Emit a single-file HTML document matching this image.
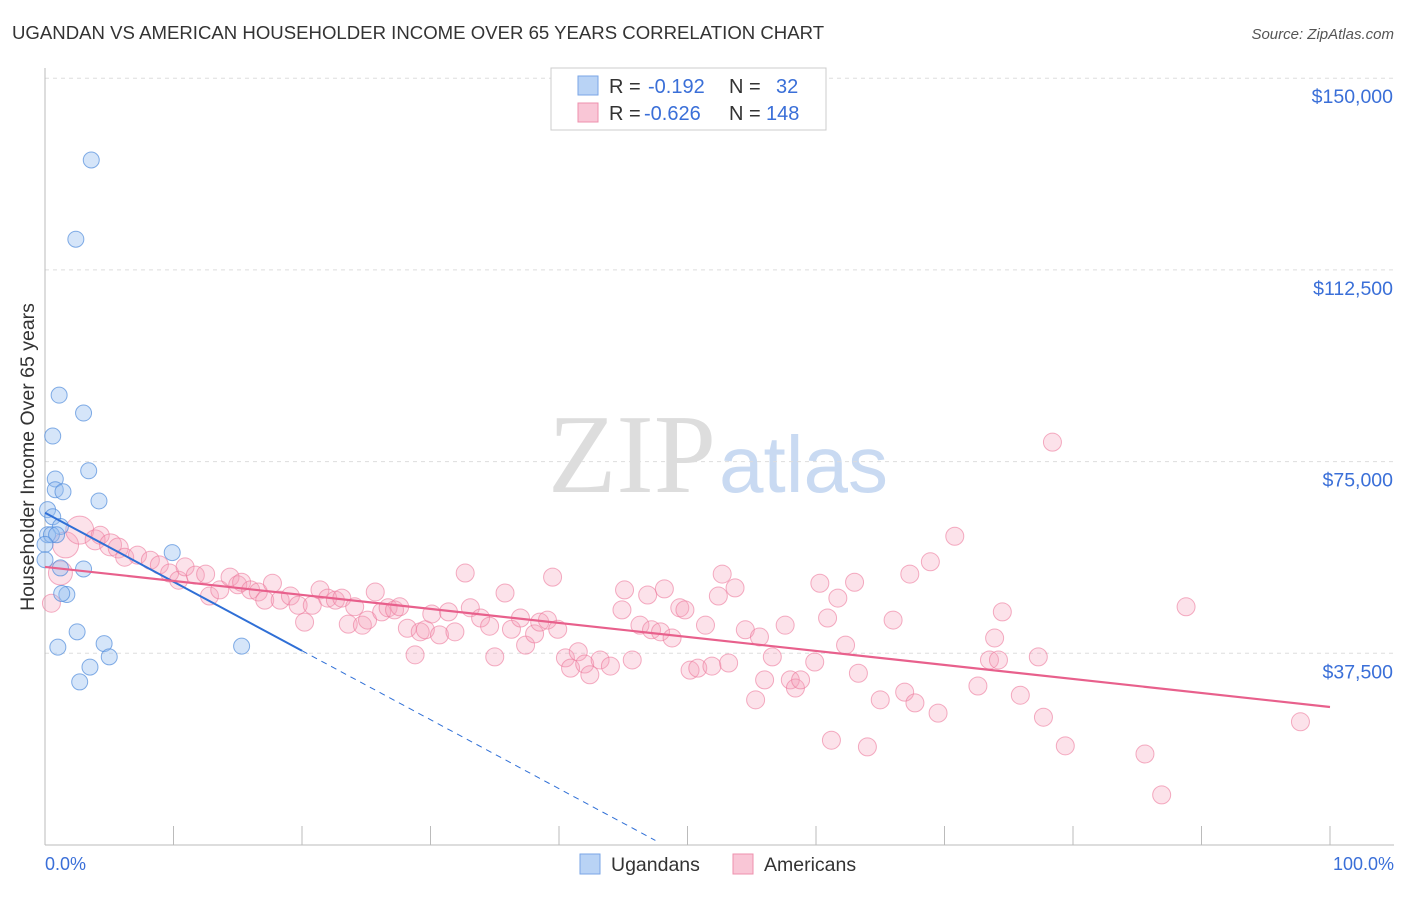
<!DOCTYPE html>
<html><head><meta charset="utf-8"><style>
body{margin:0;background:#fff;font-family:"Liberation Sans",sans-serif;}
</style></head><body>
<svg width="1406" height="892" xmlns="http://www.w3.org/2000/svg">
<text x="12" y="39" font-size="18.6" fill="#333">UGANDAN VS AMERICAN HOUSEHOLDER INCOME OVER 65 YEARS CORRELATION CHART</text>
<text x="1394" y="39" font-size="15" fill="#555" font-style="italic" text-anchor="end">Source: ZipAtlas.com</text>
<text x="716" y="492" font-size="112" fill="#ddd" text-anchor="end" font-family="Liberation Serif">ZIP</text>
<text x="719" y="492" font-size="80" fill="#c9daf2">atlas</text>
<g id="grid"></g>
<g id="axes"></g>
<g id="pts"></g>
<g id="lines"></g>
<text transform="translate(34,457) rotate(-90)" font-size="19.5" fill="#333" text-anchor="middle">Householder Income Over 65 years</text>
<text x="45" y="870" font-size="18" fill="#3a6fd8">0.0%</text>
<text x="1394" y="870" font-size="18" fill="#3a6fd8" text-anchor="end">100.0%</text>
<g>
<rect x="551" y="68" width="275" height="62" fill="#fff" stroke="#ccc"/>
<rect x="578" y="76" width="20" height="19" fill="#b9d3f5" stroke="#7aa6e6"/>
<rect x="578" y="103" width="20" height="19" fill="#f9c6d6" stroke="#ee90ad"/>
<text y="93" font-size="20" fill="#333"><tspan x="609">R =</tspan><tspan x="648" fill="#3a6fd8">-0.192</tspan><tspan x="729">N =</tspan><tspan x="776" fill="#3a6fd8">32</tspan></text>
<text y="120" font-size="20" fill="#333"><tspan x="609">R =</tspan><tspan x="644" fill="#3a6fd8">-0.626</tspan><tspan x="729">N =</tspan><tspan x="766" fill="#3a6fd8">148</tspan></text>
</g>
<g>
<rect x="580" y="854" width="20" height="20" fill="#b9d3f5" stroke="#7aa6e6"/>
<text x="611" y="871" font-size="19.5" fill="#333">Ugandans</text>
<rect x="733" y="854" width="20" height="20" fill="#f9c6d6" stroke="#ee90ad"/>
<text x="764" y="871" font-size="19.5" fill="#333">Americans</text>
</g>
</svg>
<script>
const yTicks=[37500,75000,112500,150000];
const yTickLabels=["$37,500","$75,000","$112,500","$150,000"];
const blueX=[3.6,2.4,1.1,3.0,0.6,3.4,0.8,0.8,1.4,4.2,0.2,0.6,1.2,0.2,0.5,0.9,0.0,0.0,9.9,1.2,3.0,1.7,1.3,2.5,4.6,1.0,15.3,5.0,3.5,2.7];
const blueY=[134000,118500,88000,84500,80000,73200,71600,69500,69100,67300,65600,64200,62300,60700,60700,60700,58800,55800,57200,54200,54000,49000,49200,41700,39400,38700,38900,36800,34800,31900];
const pinkX=[0.5,1.2,1.6,2.7,3.9,4.3,5.1,5.7,6.2,7.2,8.2,8.9,9.7,10.4,10.9,11.7,12.5,12.8,13.6,14.4,15.0,15.3,16.0,16.6,17.1,17.7,18.3,19.1,19.7,20.2,20.8,21.4,22.0,22.6,23.1,23.6,24.1,24.7,25.1,25.7,26.2,26.7,27.2,27.6,28.2,28.8,29.2,29.6,30.1,30.7,31.4,31.9,32.7,33.1,33.9,34.6,35.0,35.8,36.3,37.0,37.4,38.1,38.5,39.1,39.5,39.9,40.5,40.9,41.5,42.0,42.4,43.2,44.0,44.9,45.1,45.7,46.3,46.9,47.2,47.9,48.2,48.8,49.4,49.8,50.2,50.8,51.4,51.9,52.4,52.7,53.2,53.7,54.5,55.3,55.6,56.0,56.6,57.6,58.0,58.4,58.8,59.9,60.3,60.9,61.2,61.7,62.3,63.0,63.3,64.0,65.0,66.0,66.9,67.3,67.7,68.9,69.5,70.8,72.6,73.5,73.9,74.2,74.5,75.9,77.3,77.7,78.4,79.4,85.6,86.9,88.8,97.7];
const pinkY=[47300,53200,58700,61600,59700,60600,58700,58100,56300,56700,55700,54800,53200,51800,54400,52800,53000,48700,49900,52400,50900,51400,49900,49500,47900,51200,47900,48700,46900,43600,46900,49900,48300,47900,48300,43200,46600,43000,44000,49500,45600,46400,46000,46600,42400,37200,41700,42100,45200,41100,45600,41700,53200,46400,44400,42800,36800,49300,42200,44400,39100,41300,43600,44000,52400,42200,36600,34600,37800,35400,33300,36200,35000,46000,49900,36200,43000,48900,42100,41700,50100,40500,46400,46000,34200,34600,43000,35000,48700,53000,35600,50300,42100,28400,40700,32300,36800,43000,32300,30700,32300,35800,51200,44400,20500,48300,39100,51400,33600,19200,28400,44000,29900,53000,27800,55400,25800,60400,31100,36200,40500,36200,45600,29300,36800,25000,78800,19400,17800,9800,46600,24100];
const pinkR=[9,12,13,14,10,9,11,10,9,9,9,9,9,9,9];
const blueFit=[[0,65000],[20,38000],[47.5,900]];
const pinkFit=[[0,54400],[100,27000]];
const xTicks=[0,10,20,30,40,50,60,70,80,90,100];
const NS="http://www.w3.org/2000/svg";
function X(p){return 45+p*12.85;}
function Y(v){return 845-v*191.7/37500;}
function mk(t,a,parent){const e=document.createElementNS(NS,t);for(const k in a)e.setAttribute(k,a[k]);document.getElementById(parent).appendChild(e);return e;}
yTicks.forEach((v,i)=>{
 const l=mk('line',{x1:45,x2:1394,y1:Y(v),y2:Y(v),stroke:'#ddd','stroke-dasharray':'4,4'},'grid');
 
 
 const t=mk('text',{x:1393,y:Y(v)+25,'font-size':19.5,fill:'#3a6fd8','text-anchor':'end'},'grid');
 t.textContent=yTickLabels[i];
 
 
});
let ax=mk('line',{x1:45,x2:45,y1:68,y2:845,stroke:'#bbb'},'axes');


ax=mk('line',{x1:45,x2:1394,y1:845,y2:845,stroke:'#bbb'},'axes');


xTicks.forEach(p=>{
 const t=mk('line',{x1:X(p),x2:X(p),y1:826,y2:845,stroke:'#bbb'},'axes');
 
 
});
pinkX.forEach((p,i)=>{
 const c=mk('circle',{cx:X(p),cy:Y(pinkY[i]),r:pinkR[i]||9,fill:'rgba(246,160,187,0.3)',stroke:'rgba(236,120,155,0.6)','stroke-width':1},'pts');
 
 
});
blueX.forEach((p,i)=>{
 const c=mk('circle',{cx:X(p),cy:Y(blueY[i]),r:8,fill:'rgba(150,190,240,0.4)',stroke:'rgba(80,140,220,0.7)','stroke-width':1},'pts');
 
 
});
let l=mk('line',{x1:X(blueFit[0][0]),y1:Y(blueFit[0][1]),x2:X(blueFit[1][0]),y2:Y(blueFit[1][1]),stroke:'#2f6fd6','stroke-width':2},'lines');


l=mk('line',{x1:X(blueFit[1][0]),y1:Y(blueFit[1][1]),x2:X(blueFit[2][0]),y2:Y(blueFit[2][1]),stroke:'#2f6fd6','stroke-width':1,'stroke-dasharray':'6,5'},'lines');


l=mk('line',{x1:X(pinkFit[0][0]),y1:Y(pinkFit[0][1]),x2:X(pinkFit[1][0]),y2:Y(pinkFit[1][1]),stroke:'#e8608c','stroke-width':2.2},'lines');


</script>
</body></html>
